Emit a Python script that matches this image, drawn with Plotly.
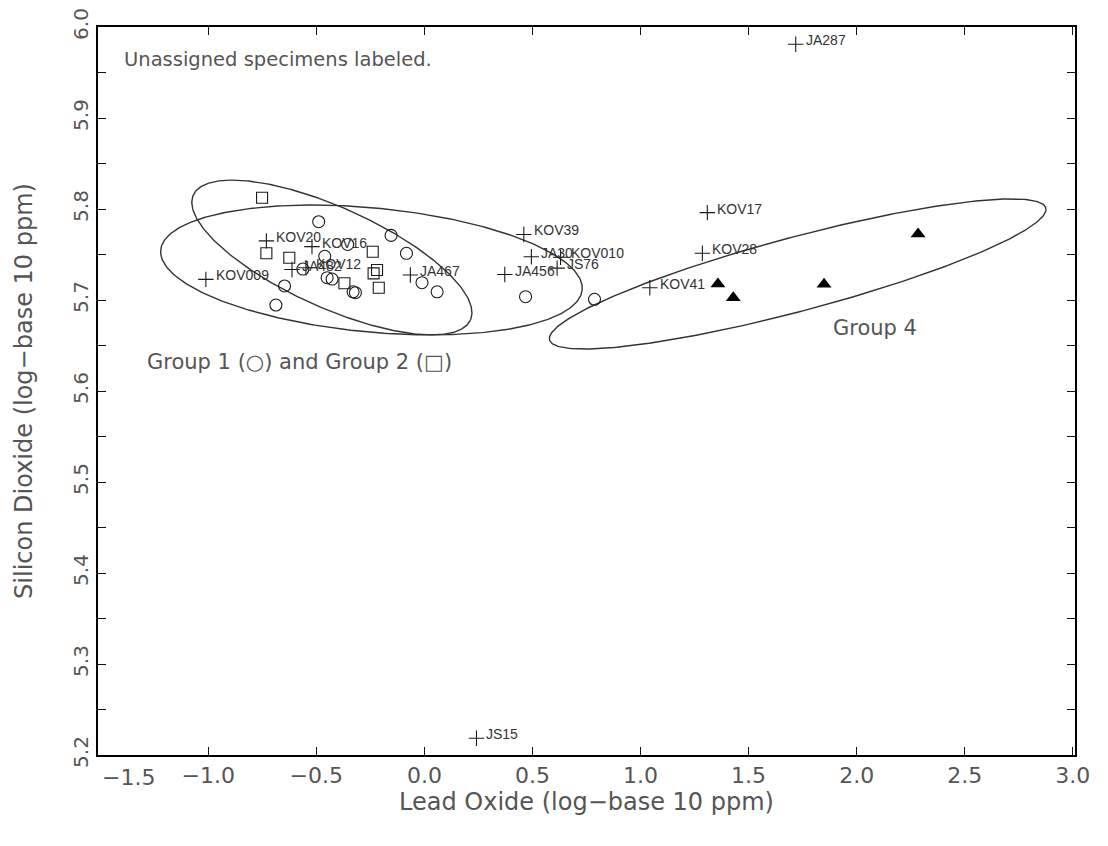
import numpy as np
import plotly.graph_objects as go

# ---------------- data ----------------
group1_x = [-0.489, -0.154, -0.355, -0.461, -0.562, -0.450, -0.427, -0.647, -0.687,
            -0.330, -0.319, -0.083, -0.011, 0.059, 0.468, 0.787]
group1_y = [5.786, 5.771, 5.761, 5.748, 5.734, 5.7245, 5.723, 5.7154, 5.6945,
            5.709, 5.708, 5.7513, 5.719, 5.709, 5.7036, 5.7008]

group2_x = [-0.751, -0.731, -0.625, -0.239, -0.235, -0.219, -0.370, -0.211]
group2_y = [5.8124, 5.7513, 5.7465, 5.753, 5.7293, 5.733, 5.7184, 5.7135]

group4_x = [1.358, 1.429, 1.849, 2.284]
group4_y = [5.7176, 5.7025, 5.7173, 5.7725]

unassigned_names = ["KOV20", "KOV16", "KOV009", "JA482", "KOV12", "JA467", "KOV39", "JA30",
                    "KOV010", "JS76", "JA456", "KOV17", "KOV28", "KOV41", "JA287", "JS15"]
unassigned_x = [-0.731, -0.520, -1.011, -0.6125, -0.548, -0.065, 0.460, 0.495,
                0.630, 0.614, 0.372, 1.309, 1.286, 1.043, 1.718, 0.241]
unassigned_y = [5.765, 5.7586, 5.7227, 5.7335, 5.7355, 5.7275, 5.772, 5.7476,
                5.747, 5.735, 5.728, 5.796, 5.7513, 5.7135, 5.981, 5.2184]

# confidence ellipses: center, first half-axis vector, second half-axis vector (data units)
ellipse_g1 = {"center": (-0.245, 5.733), "u": (0.975, -0.0219), "v": (-0.027, -0.0679)}
ellipse_g2 = {"center": (-0.428, 5.7467), "u": (0.641, -0.0687), "v": (-0.0953, -0.0501)}
ellipse_g4 = {"center": (1.727, 5.7286), "u": (1.148, 0.0725), "v": (0.044, -0.0393)}

x_tickvals = [-1.0, -0.5, 0.0, 0.5, 1.0, 1.5, 2.0, 2.5, 3.0]
y_tickvals = [5.2, 5.3, 5.4, 5.5, 5.6, 5.7, 5.8, 5.9, 6.0]

# ---------------- figure ----------------
INK = "#1a1a1a"
GRAY = "#555555"
AXFONT = "DejaVu Sans"

fig = go.Figure()

t = np.linspace(0, 2 * np.pi, 361)
for e in (ellipse_g1, ellipse_g2, ellipse_g4):
    cx, cy = e["center"]
    ux, uy = e["u"]
    vx, vy = e["v"]
    fig.add_trace(go.Scatter(
        x=cx + ux * np.cos(t) + vx * np.sin(t),
        y=cy + uy * np.cos(t) + vy * np.sin(t),
        mode="lines", line=dict(color="#333333", width=1.4),
        hoverinfo="skip"))

fig.add_trace(go.Scatter(x=group1_x, y=group1_y, mode="markers",
                         marker=dict(symbol="circle-open", size=12, color=INK,
                                     line=dict(width=1.1, color=INK))))
fig.add_trace(go.Scatter(x=group2_x, y=group2_y, mode="markers",
                         marker=dict(symbol="square-open", size=11, color=INK,
                                     line=dict(width=1.1, color=INK))))
fig.add_trace(go.Scatter(x=group4_x, y=group4_y, mode="markers",
                         marker=dict(symbol="triangle-up", size=13, color="black")))
fig.add_trace(go.Scatter(x=unassigned_x, y=unassigned_y, mode="markers",
                         marker=dict(symbol="cross-thin-open", size=11, color=INK,
                                     line=dict(width=1.1, color=INK))))

annotations = []
for name, xv, yv in zip(unassigned_names, unassigned_x, unassigned_y):
    annotations.append(dict(x=xv, y=yv, xref="x", yref="y", text=name, showarrow=False,
                            xanchor="left", yanchor="middle", xshift=8, yshift=4,
                            font=dict(family="Liberation Sans", size=14, color="#333333")))

annotations += [
    dict(x=0.025, y=0.955, xref="paper", yref="paper", text="Unassigned specimens labeled.",
         showarrow=False, xanchor="left", yanchor="middle",
         font=dict(family=AXFONT, size=19.5, color=GRAY)),
    dict(x=-1.292, y=5.632, xref="x", yref="y", text="Group 1 (○) and Group 2 (□)",
         showarrow=False, xanchor="left", yanchor="middle",
         font=dict(family=AXFONT, size=21, color=GRAY)),
    dict(x=1.88, y=5.669, xref="x", yref="y", text="Group 4",
         showarrow=False, xanchor="left", yanchor="middle",
         font=dict(family=AXFONT, size=21, color=GRAY)),
    dict(x=-1.5, y=0, xref="x", yref="paper", text="−1.5", showarrow=False,
         xanchor="center", yanchor="top", xshift=28, yshift=-8,
         font=dict(family=AXFONT, size=22, color=GRAY)),
]

# the page body adds an 8 px offset, so the figure is drawn 8 px smaller
fig.update_layout(
    width=1100, height=838,
    margin=dict(l=90, r=33, t=19, b=91, autoexpand=False),
    paper_bgcolor="white", plot_bgcolor="white",
    showlegend=False,
    annotations=annotations,
    xaxis=dict(
        range=[-1.51, 3.01], tickvals=x_tickvals, automargin=False,
        ticktext=[f"{v:.1f}".replace("-", "−") for v in x_tickvals],
        ticks="inside", ticklen=8, tickwidth=1, tickcolor="#111",
        showline=True, linecolor="black", linewidth=2, mirror="allticks",
        showgrid=False, zeroline=False, ticklabeloverflow="allow",
        tickfont=dict(family=AXFONT, size=22, color=GRAY),
        title=dict(text="Lead Oxide (log−base 10 ppm)",
                   font=dict(family=AXFONT, size=24, color=GRAY), standoff=4),
    ),
    yaxis=dict(
        range=[5.2, 6.0], tickvals=y_tickvals, automargin=False,
        ticktext=[f"{v:.1f}" for v in y_tickvals], tickangle=-90,
        ticks="inside", ticklen=8, tickwidth=1, tickcolor="#111",
        minor=dict(dtick=0.05, ticks="inside", ticklen=8, tickwidth=1, tickcolor="#111"),
        showline=True, linecolor="black", linewidth=2, mirror="allticks",
        showgrid=False, zeroline=False, ticklabeloverflow="allow",
        tickfont=dict(family=AXFONT, size=20, color=GRAY),
        title=dict(text="Silicon Dioxide (log−base 10 ppm)",
                   font=dict(family=AXFONT, size=24, color=GRAY), standoff=30),
    ),
)

fig.write_html("out.html")
